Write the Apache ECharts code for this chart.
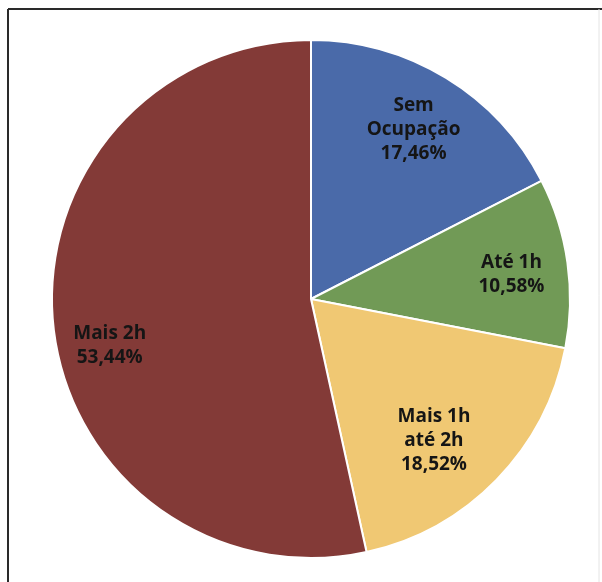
<!DOCTYPE html>
<html>
<head>
<meta charset="utf-8">
<script src="https://cdn.jsdelivr.net/npm/echarts@6/dist/echarts.min.js"></script>
<style>
  html, body { margin: 0; padding: 0; background: #ffffff; }
  #chart { width: 602px; height: 582px; }
</style>
</head>
<body>
<div id="chart"></div>
<script>
// Occupation time shares (percent)
const categories = ['Sem\nOcupação', 'Até 1h', 'Mais 1h\naté 2h', 'Mais 2h'];
const values = [17.46, 10.58, 18.52, 53.44];
const colors = ['#4a6aa9', '#719a56', '#f0c873', '#833a37'];

// small nudges for the slice labels
const labelNudge = [[-3, 3], [0, 4], [-22, 0], [0, 25]];

const fmt = v => v.toFixed(2).replace('.', ',') + '%';

const sliceData = categories.map((name, i) => ({
  name: name,
  value: values[i],
  itemStyle: { color: colors[i] }
}));

const chart = echarts.init(document.getElementById('chart'), null, { renderer: 'canvas' });

chart.setOption({
  animation: false,
  backgroundColor: '#ffffff',
  graphic: [
    // outer frame: dark top and left edges, faint right edge
    { type: 'line', shape: { x1: 8, y1: 9, x2: 602, y2: 9 }, style: { stroke: '#2a2a2a', lineWidth: 2 } },
    { type: 'line', shape: { x1: 8, y1: 9, x2: 8, y2: 582 }, style: { stroke: '#2a2a2a', lineWidth: 2 } },
    { type: 'line', shape: { x1: 599, y1: 9, x2: 599, y2: 582 }, style: { stroke: '#e4e4e4', lineWidth: 1 } }
  ],
  series: [
    {
      // the slices
      type: 'pie',
      center: [311, 299],
      radius: [0, 259],
      startAngle: 90,
      clockwise: true,
      silent: true,
      label: { show: false },
      labelLine: { show: false },
      itemStyle: { borderColor: '#ffffff', borderWidth: 2 },
      data: sliceData
    },
    {
      // transparent ring used only to place the labels near the outer edge
      type: 'pie',
      center: [311, 299],
      radius: [140, 259],
      startAngle: 90,
      clockwise: true,
      silent: true,
      itemStyle: { color: 'rgba(0,0,0,0)', borderWidth: 0 },
      label: {
        show: true,
        position: 'inside',
        formatter: p => p.name + '\n' + fmt(p.value),
        color: '#151515',
        fontFamily: '"Open Sans", sans-serif',
        fontWeight: 'bold',
        fontSize: 19,
        lineHeight: 24,
        align: 'center'
      },
      labelLine: { show: false },
      data: sliceData.map((d, i) => ({
        name: d.name,
        value: d.value,
        label: { offset: labelNudge[i] }
      }))
    }
  ]
});
</script>
</body>
</html>
